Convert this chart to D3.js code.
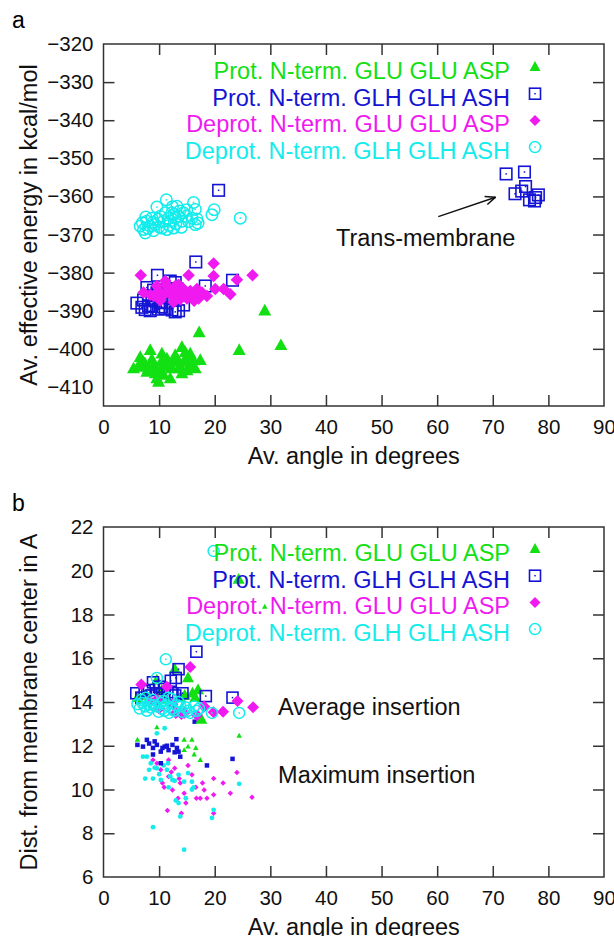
<!DOCTYPE html>
<html>
<head>
<meta charset="utf-8">
<script src="https://cdn.jsdelivr.net/npm/d3@7"></script>
<style>
  body { margin: 0; background: #fff; }
  text { font-family: "Liberation Sans", Arial, Helvetica, sans-serif; }
</style>
</head>
<body>
<svg id="chart" width="614" height="936"></svg>
<script>
// ---- data ----
const xTicks = [0, 10, 20, 30, 40, 50, 60, 70, 80, 90]
const yTicksA = [-320, -330, -340, -350, -360, -370, -380, -390, -400, -410]
const yTicksB = [6, 8, 10, 12, 14, 16, 18, 20, 22]
const legendNames = [
  'Prot. N-term. GLU GLU ASP',
  'Prot. N-term. GLH GLH ASH',
  'Deprot. N-term. GLU GLU ASP',
  'Deprot. N-term. GLH GLH ASH'
]

// panel a : [angle, energy]
const protGluA = [[5.4,-405.2],[6.3,-404.5],[6.6,-402.2],[6.9,-404.8],[7.2,-403.5],[7.5,-404.0],[7.8,-406.1],[8.1,-405.2],
  [8.4,-400.4],[8.7,-402.8],[9.0,-404.3],[9.3,-406.5],[9.6,-407.8],[9.9,-408.7],[10.2,-405.6],[10.4,-403.4],
  [10.5,-401.3],[10.8,-406.9],[11.1,-404.8],[11.4,-402.6],[11.7,-403.9],[12.0,-407.8],[12.3,-405.2],[12.6,-403.5],
  [12.9,-401.7],[13.2,-403.0],[13.5,-405.2],[13.8,-404.6],[14.1,-399.6],[14.1,-406.5],[14.4,-403.5],[14.7,-400.9],
  [15.0,-405.7],[15.3,-402.6],[15.6,-401.3],[15.8,-404.3],[16.2,-403.1],[16.5,-405.2],[17.4,-403.0],[17.2,-395.7],
  [24.4,-400.4],[29.0,-390.0],[31.9,-399.1]]
const protGlhA = [[6.0,-388.0],[6.9,-389.1],[7.2,-387.2],[7.5,-389.7],[7.8,-383.9],[8.1,-386.0],[8.1,-388.7],[8.4,-390.0],
  [8.7,-386.1],[8.7,-388.9],[9.0,-384.6],[9.3,-387.4],[9.6,-385.3],[9.7,-380.7],[9.9,-389.6],[10.2,-387.8],
  [10.5,-389.0],[10.8,-384.5],[11.1,-389.4],[11.4,-387.9],[11.7,-386.5],[12.0,-382.2],[12.3,-389.8],[12.6,-386.4],
  [12.9,-382.6],[12.9,-390.3],[13.2,-384.2],[13.5,-390.0],[13.8,-385.5],[14.4,-388.5],[16.6,-377.2],[18.3,-383.5],
  [20.7,-358.4],[23.2,-382.0],
  [72.4,-354.1],[75.7,-353.6],[74.0,-359.3],[75.2,-358.6],[75.9,-357.4],[76.6,-360.9],[77.5,-361.2],[78.2,-359.6],[77.7,-360.3]]
const deprotGluA = [[6.7,-380.7],[7.2,-385.2],[8.4,-385.8],[9.0,-386.1],[9.6,-383.5],[9.9,-384.8],[10.2,-387.3],[10.5,-386.1],
  [11.0,-385.4],[11.1,-382.2],[11.4,-383.5],[11.7,-384.2],[12.0,-384.8],[12.3,-386.1],[12.6,-387.8],[12.9,-383.5],
  [13.2,-386.5],[13.5,-385.2],[13.5,-383.2],[13.8,-387.0],[14.1,-385.9],[14.4,-384.3],[14.7,-386.1],[15.0,-386.8],
  [15.3,-380.7],[15.6,-384.8],[16.0,-385.6],[16.3,-387.4],[16.8,-384.3],[17.1,-386.8],[17.7,-385.2],[18.6,-386.1],
  [19.8,-377.6],[19.8,-380.9],[20.1,-384.3],[21.6,-384.3],[22.8,-385.7],[24.0,-381.9],[26.8,-380.7]]
const deprotGlhA = [[6.6,-367.8],[7.0,-366.9],[7.2,-368.7],[7.5,-369.6],[7.6,-365.4],[7.8,-366.5],[8.0,-368.4],[8.4,-367.8],
  [8.7,-365.7],[8.9,-366.8],[9.0,-369.0],[9.3,-367.4],[9.6,-362.8],[9.8,-366.0],[10.0,-368.0],[10.2,-365.2],
  [10.5,-368.3],[10.7,-366.6],[11.1,-364.3],[11.3,-360.9],[11.4,-368.7],[11.6,-365.8],[11.8,-367.6],[12.0,-366.5],
  [12.3,-364.3],[12.4,-362.7],[12.6,-368.3],[12.7,-364.7],[12.9,-365.7],[13.0,-367.2],[13.2,-362.6],[13.5,-365.2],
  [13.7,-363.8],[14.0,-368.1],[14.1,-366.5],[14.4,-364.3],[14.8,-365.2],[15.0,-363.5],[15.3,-366.6],[15.9,-365.7],
  [16.2,-361.6],[16.5,-367.4],[16.5,-363.4],[16.8,-365.9],[17.0,-367.0],[19.5,-364.8],[19.9,-363.5],[24.6,-365.7]]

// panel b : [angle, distance], average insertion (big marks) and maximum insertion (small marks)
const protGluAvgB = [[6.1,14.2],[7.7,14.3],[9.6,15.0],[10.4,14.5],[11.0,14.1],[12.8,15.5],[13.8,14.2],[14.6,14.3],
  [15.2,15.1],[16.0,14.4],[16.5,14.2],[17.0,14.55],[17.6,13.2],[24.3,19.6]]
const protGlhAvgB = [[5.9,14.4],[6.8,14.2],[7.4,14.5],[8.2,14.55],[8.6,14.3],[8.9,14.9],[9.6,14.4],[10.0,14.7],
  [10.5,14.35],[11.0,14.6],[11.5,14.45],[12.1,14.97],[12.4,14.4],[12.9,14.3],[13.0,15.1],[13.5,15.5],[14.2,14.4],
  [16.7,16.3],[18.4,14.27],[23.2,14.2]]
const deprotGluAvgB = [[6.8,14.8],[8.3,14.0],[9.6,14.1],[10.0,13.7],[11.4,14.7],[12.4,13.9],[13.0,13.5],[14.0,13.45],
  [14.5,13.5],[15.6,15.6],[16.8,13.4],[18.1,13.8],[19.8,13.53],[21.5,13.56],[24.1,14.05],[26.9,13.76]]
const deprotGlhAvgB = [[6.1,13.9],[6.5,13.7],[6.8,14.1],[7.0,13.95],[7.5,13.8],[7.6,14.2],[7.8,13.6],[8.2,13.9],
  [8.5,13.75],[8.8,14.1],[9.0,13.85],[9.6,15.1],[9.6,13.8],[9.9,13.55],[10.3,13.95],[10.6,13.7],[10.8,14.05],
  [11.0,13.6],[11.2,15.95],[11.3,13.85],[11.7,14.2],[11.8,13.5],[12.2,14.15],[12.4,13.7],[12.7,13.6],[13.2,13.85],
  [13.5,14.0],[13.8,13.8],[14.2,13.55],[14.8,13.75],[15.2,13.6],[15.6,13.5],[16.3,13.8],[16.8,13.6],[17.2,13.7],
  [19.5,13.5],[19.8,20.9],[24.4,13.5]]
const protGluMaxB = [[6.1,12.27],[9.6,12.84],[13.8,13.7],[14.5,12.27],[14.5,11.8],[15.2,11.96],[15.9,12.27],[16.3,11.6],
  [16.6,11.9],[17.4,11.35],[17.5,13.18],[24.4,12.46],[29.0,18.35]]
const protGlhMaxB = [[6.1,12.04],[7.1,11.96],[7.8,12.27],[8.2,12.1],[8.9,11.9],[8.9,11.6],[9.2,12.2],[9.6,12.04],
  [10.3,11.73],[10.3,11.2],[10.6,11.9],[11.0,11.96],[11.4,12.0],[11.7,11.8],[12.4,12.04],[12.8,11.7],[13.1,12.3],
  [13.2,11.9],[13.5,11.73],[13.8,11.5],[16.4,13.1],[18.6,11.1],[23.2,11.4]]
const deprotGluMaxB = [[8.9,11.35],[9.6,11.2],[10.3,10.9],[10.6,10.3],[10.9,10.1],[11.5,9.04],[11.7,10.6],[11.7,11.35],
  [12.2,10.8],[12.4,9.98],[12.8,10.97],[13.4,9.6],[13.6,10.5],[13.8,10.3],[14.0,8.92],[14.5,9.83],[14.8,9.38],
  [15.2,11.1],[15.9,10.67],[16.6,10.1],[16.7,9.6],[17.4,9.6],[17.8,10.3],[18.1,9.98],[18.6,9.6],[19.8,9.76],
  [19.8,10.5],[19.8,8.92],[21.5,10.3],[22.8,9.83],[24.0,10.78],[26.7,9.65]]
const deprotGlhMaxB = [[7.1,11.5],[7.5,10.5],[7.8,11.5],[8.2,10.9],[8.5,11.2],[8.9,10.5],[8.9,8.28],[9.2,11.0],
  [9.6,12.57],[9.6,10.97],[10.0,10.7],[10.3,10.44],[10.8,11.1],[11.0,12.8],[11.4,10.9],[11.6,11.2],[11.7,10.1],
  [12.0,10.6],[12.4,10.44],[12.8,10.4],[13.0,9.5],[13.5,10.67],[13.5,9.38],[13.8,8.77],[14.5,10.36],[14.5,7.25],
  [14.8,9.6],[15.2,10.75],[15.9,10.36],[15.9,10.0],[16.2,10.1],[19.5,8.7],[19.8,9.07],[24.4,10.26]]

const colors = ['#12e012', '#1414d4', '#f01af0', '#14ecec']
const shapes = ['tri', 'sq', 'dia', 'circ']

// ---- drawing ----
const svg = d3.select('#chart')

function marker(g, type, cx, cy, s, color, small) {
  if (type == 'tri') {
    let h = s * 0.9
    g.append('path')
      .attr('d', `M${cx},${cy - h * 0.6}L${cx + s / 2},${cy + h * 0.4}L${cx - s / 2},${cy + h * 0.4}Z`)
      .attr('fill', color)
  } else if (type == 'dia') {
    let r = s / 2
    g.append('path')
      .attr('d', `M${cx},${cy - r}L${cx + r},${cy}L${cx},${cy + r}L${cx - r},${cy}Z`)
      .attr('fill', color)
  } else if (type == 'sq') {
    g.append('rect')
      .attr('x', cx - s / 2).attr('y', cy - s / 2).attr('width', s).attr('height', s)
      .attr('fill', small ? color : 'none')
      .attr('stroke', color).attr('stroke-width', small ? 0 : 1.6)
    if (!small) g.append('rect').attr('x', cx - 0.75).attr('y', cy - 0.75).attr('width', 1.5).attr('height', 1.5).attr('fill', color)
  } else {
    g.append('circle')
      .attr('cx', cx).attr('cy', cy).attr('r', s / 2)
      .attr('fill', small ? color : 'none')
      .attr('stroke', color).attr('stroke-width', small ? 0 : 1.5)
    if (!small) g.append('rect').attr('x', cx - 0.75).attr('y', cy - 0.75).attr('width', 1.5).attr('height', 1.5).attr('fill', color)
  }
}

function drawFrame(x, y, yTicks, tag, ytitle, top, bottom) {
  let left = x.range()[0], right = x.range()[1]
  let g = svg.append('g')

  let ax = g.append('g').attr('transform', `translate(0,${bottom})`)
    .call(d3.axisBottom(x).tickValues(xTicks).tickSizeInner(-11).tickSizeOuter(0).tickPadding(13))
  g.append('g').attr('transform', `translate(0,${top})`)
    .call(d3.axisTop(x).tickValues(xTicks.slice(1, -1)).tickSizeInner(-11).tickSizeOuter(0).tickFormat(''))
  let ay = g.append('g').attr('transform', `translate(${left},0)`)
    .call(d3.axisLeft(y).tickValues(yTicks).tickSizeInner(-11).tickSizeOuter(0).tickPadding(10))
  g.append('g').attr('transform', `translate(${right},0)`)
    .call(d3.axisRight(y).tickValues(yTicks.slice(1, -1)).tickSizeInner(-11).tickSizeOuter(0).tickFormat(''))

  // first/last ticks sit on the frame, drop them
  ax.selectAll('.tick').filter(d => d == 0 || d == 90).select('line').remove()
  ay.selectAll('.tick').filter((d, i) => i == 0 || i == yTicks.length - 1).select('line').remove()

  g.selectAll('.domain').remove()
  g.selectAll('.tick line').attr('stroke', '#333').attr('stroke-width', 1.5)
  g.selectAll('.tick text').attr('font-size', '20.5px').attr('fill', '#111')
    .style('font-family', '"Liberation Sans", Arial, sans-serif')

  g.append('rect')
    .attr('x', left).attr('y', top).attr('width', right - left).attr('height', bottom - top)
    .attr('fill', 'none').attr('stroke', '#333').attr('stroke-width', 1.5)

  svg.append('text').attr('x', 12).attr('y', top - 16).attr('font-size', '23px').text(tag)
  svg.append('text')
    .attr('transform', `translate(37,${(top + bottom) / 2}) rotate(-90)`)
    .attr('text-anchor', 'middle').attr('font-size', '23.5px').attr('fill', '#111')
    .text(ytitle)
  svg.append('text')
    .attr('x', (left + right) / 2).attr('y', bottom + 58)
    .attr('text-anchor', 'middle').attr('font-size', '23.5px').attr('fill', '#111')
    .text('Av. angle in degrees')
}

function drawLegend(top) {
  let g = svg.append('g')
  legendNames.forEach((name, i) => {
    let yy = top + i * 26.7
    g.append('text').attr('x', 510).attr('y', yy + 12)
      .attr('text-anchor', 'end').attr('font-size', '23.5px').attr('fill', colors[i])
      .text(name)
    marker(g, shapes[i], 535, yy, 11, colors[i], false)
  })
}

// panel a
let xA = d3.scaleLinear().domain([0, 90]).range([103.5, 604])
let yA = d3.scaleLinear().domain([-415, -320]).range([406, 44])
drawFrame(xA, yA, yTicksA, 'a', 'Av. effective energy in kcal/mol', 44, 406)

let seriesA = [protGluA, protGlhA, deprotGluA, deprotGlhA]
let gA = svg.append('g')
seriesA.forEach((data, i) => {
  let sizes = { tri: 13, sq: 11.5, dia: 12.5, circ: 11.5 }
  data.forEach(d => marker(gA, shapes[i], xA(d[0]), yA(d[1]), sizes[shapes[i]], colors[i], false))
})
drawLegend(67)

// trans-membrane arrow
let ax0 = xA(60.2), ay0 = yA(-365.3), ax1 = xA(70.5), ay1 = yA(-360.2)
svg.append('line').attr('x1', ax0).attr('y1', ay0).attr('x2', ax1).attr('y2', ay1)
  .attr('stroke', '#111').attr('stroke-width', 1.5)
let ang = Math.atan2(ay1 - ay0, ax1 - ax0)
;[0.4, -0.4].forEach(da => {
  svg.append('line').attr('x1', ax1).attr('y1', ay1)
    .attr('x2', ax1 - 11 * Math.cos(ang + da)).attr('y2', ay1 - 11 * Math.sin(ang + da))
    .attr('stroke', '#111').attr('stroke-width', 1.5)
})
svg.append('text').attr('x', xA(41.8)).attr('y', yA(-372.9))
  .attr('font-size', '23.5px').attr('fill', '#111').text('Trans-membrane')

// panel b
let xB = d3.scaleLinear().domain([0, 90]).range([103.5, 604])
let yB = d3.scaleLinear().domain([6, 22]).range([877, 527])
drawFrame(xB, yB, yTicksB, 'b', 'Dist. from membrane center in A', 527, 877)

let gB = svg.append('g')
let smallB = [deprotGluMaxB, deprotGlhMaxB, protGluMaxB, protGlhMaxB]
let smallIdx = [2, 3, 0, 1]
smallB.forEach((data, k) => {
  let i = smallIdx[k]
  let sizes = { tri: 5.5, sq: 4.5, dia: 5.5, circ: 4.8 }
  data.forEach(d => marker(gB, shapes[i], xB(d[0]), yB(d[1]), sizes[shapes[i]], colors[i], true))
})
let bigB = [protGluAvgB, protGlhAvgB, deprotGluAvgB, deprotGlhAvgB]
bigB.forEach((data, i) => {
  let sizes = { tri: 12, sq: 11, dia: 12, circ: 11 }
  data.forEach(d => marker(gB, shapes[i], xB(d[0]), yB(d[1]), sizes[shapes[i]], colors[i], false))
})
drawLegend(549)

svg.append('text').attr('x', xB(31.4)).attr('y', yB(13.4))
  .attr('font-size', '23.5px').attr('fill', '#111').text('Average insertion')
svg.append('text').attr('x', xB(31.4)).attr('y', yB(10.3))
  .attr('font-size', '23.5px').attr('fill', '#111').text('Maximum insertion')
</script>
</body>
</html>
